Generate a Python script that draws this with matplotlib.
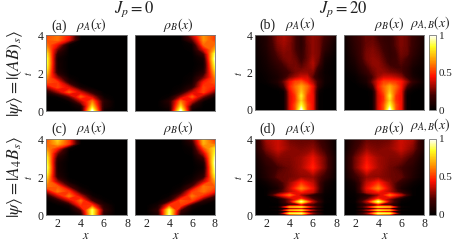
import numpy as np
import matplotlib
matplotlib.use("Agg")
import matplotlib.pyplot as plt
from matplotlib.colors import LinearSegmentedColormap

plt.rcParams['font.family'] = ['Liberation Serif', 'DejaVu Serif']
plt.rcParams['mathtext.fontset'] = 'stix'

x_sites = [1, 2, 3, 4, 5, 6, 7, 8]
x_half = [1, 2, 3, 3.5, 4, 4.5, 5, 5.5, 6, 6.5, 7, 8]
t_even = [0, .25, .5, .75, 1, 1.25, 1.5, 1.75, 2, 2.25, 2.5, 2.75, 3, 3.25, 3.5, 3.75, 4]
t_fine = [0, .09, .17, .25, .33, .42, .52, .7, .85, 1.05, 1.2, 1.4, 1.7, 2, 2.5, 3, 3.5, 4]

rho_a_A = [
 [0, 0, 0, .02, 1, .04, 0, 0],
 [0, 0, 0, .08, .75, .1, 0, 0],
 [0, 0, .02, .32, .6, .12, 0, 0],
 [0, .02, .22, .55, .35, .03, 0, 0],
 [.08, .3, .55, .35, .1, 0, 0, 0],
 [.3, .52, .38, .06, 0, 0, 0, 0],
 [.55, .5, .12, 0, 0, 0, 0, 0],
 [.65, .3, .03, 0, 0, 0, 0, 0],
 [.78, .12, 0, 0, 0, 0, 0, 0],
 [.88, .07, 0, 0, 0, 0, 0, 0],
 [.92, .07, 0, 0, 0, 0, 0, 0],
 [.92, .06, 0, 0, 0, 0, 0, 0],
 [.85, .12, 0, 0, 0, 0, 0, 0],
 [.72, .25, 0, 0, 0, 0, 0, 0],
 [.6, .42, .03, 0, 0, 0, 0, 0],
 [.55, .6, .4, 0, 0, 0, 0, 0],
 [.5, .6, .45, 0, 0, 0, 0, 0],
]
rho_a_B = [
 [0, 0, 0, .03, 1, .03, 0, 0],
 [0, 0, 0, .08, .75, .12, 0, 0],
 [0, 0, 0, .12, .6, .35, .02, 0],
 [0, 0, 0, .02, .3, .55, .25, .03],
 [0, 0, 0, 0, .06, .35, .52, .25],
 [0, 0, 0, 0, .02, .12, .52, .45],
 [0, 0, 0, 0, 0, .05, .45, .55],
 [0, 0, 0, 0, 0, .03, .25, .6],
 [0, 0, 0, 0, 0, .01, .12, .7],
 [0, 0, 0, 0, 0, 0, .06, .8],
 [0, 0, 0, 0, 0, 0, .04, .88],
 [0, 0, 0, 0, 0, 0, .07, .95],
 [0, 0, 0, 0, 0, 0, .18, .88],
 [0, 0, 0, 0, 0, .02, .4, .68],
 [0, 0, 0, 0, 0, .04, .58, .58],
 [0, 0, 0, 0, 0, .22, .65, .5],
 [0, 0, 0, 0, 0, .35, .65, .5],
]
rho_c_A = [
 [0, 0, 0, .06, .88, .1, 0, 0],
 [0, 0, 0, .2, .88, .16, 0, 0],
 [0, 0, .05, .48, .5, .1, 0, 0],
 [0, .08, .35, .58, .18, .02, 0, 0],
 [.05, .35, .6, .35, .04, 0, 0, 0],
 [.32, .6, .48, .1, 0, 0, 0, 0],
 [.6, .55, .2, .02, 0, 0, 0, 0],
 [.7, .3, .04, 0, 0, 0, 0, 0],
 [.82, .12, 0, 0, 0, 0, 0, 0],
 [.92, .08, 0, 0, 0, 0, 0, 0],
 [.96, .07, 0, 0, 0, 0, 0, 0],
 [.92, .07, 0, 0, 0, 0, 0, 0],
 [.88, .12, 0, 0, 0, 0, 0, 0],
 [.78, .25, 0, 0, 0, 0, 0, 0],
 [.65, .45, .02, 0, 0, 0, 0, 0],
 [.55, .7, .5, 0, 0, 0, 0, 0],
 [.5, .78, .5, 0, 0, 0, 0, 0],
]
rho_c_B = [
 [0, 0, .08, .92, .08, 0, 0, 0],
 [0, 0, .14, .88, .2, .02, 0, 0],
 [0, 0, .06, .5, .5, .08, 0, 0],
 [0, 0, 0, .12, .55, .5, .12, .02],
 [0, 0, 0, .02, .28, .6, .45, .18],
 [0, 0, 0, 0, .08, .48, .6, .45],
 [0, 0, 0, 0, .02, .2, .6, .55],
 [0, 0, 0, 0, 0, .06, .35, .65],
 [0, 0, 0, 0, 0, .02, .14, .78],
 [0, 0, 0, 0, 0, 0, .08, .88],
 [0, 0, 0, 0, 0, 0, .04, .92],
 [0, 0, 0, 0, 0, 0, .08, .96],
 [0, 0, 0, 0, 0, 0, .18, .92],
 [0, 0, 0, 0, 0, .02, .35, .85],
 [0, 0, 0, 0, 0, .04, .52, .8],
 [0, 0, 0, 0, 0, .1, .7, .55],
 [0, 0, 0, 0, 0, .2, .72, .45],
]
rho_b_A = [
 [0, 0, 0, .02, .38, .55, 1, .55, .42, .02, 0, 0],
 [0, 0, 0, .02, .38, .55, .85, .55, .42, .02, 0, 0],
 [0, 0, 0, .02, .38, .5, .75, .5, .42, .02, 0, 0],
 [0, 0, 0, .02, .38, .5, .8, .5, .42, .02, 0, 0],
 [0, 0, 0, .03, .4, .55, .72, .55, .4, .04, 0, 0],
 [0, 0, .04, .18, .45, .58, .68, .58, .42, .12, .02, 0],
 [0, .02, .1, .25, .42, .52, .55, .45, .32, .15, .04, 0],
 [0, .03, .08, .15, .25, .32, .38, .38, .22, .1, .04, 0],
 [0, .04, .1, .15, .2, .26, .3, .3, .27, .1, .03, 0],
 [.01, .05, .13, .18, .24, .27, .24, .28, .32, .15, .04, 0],
 [.01, .06, .16, .22, .27, .26, .2, .26, .34, .22, .05, 0],
 [.01, .07, .2, .26, .28, .24, .17, .24, .32, .25, .07, 0],
 [.02, .08, .23, .28, .28, .22, .15, .24, .3, .27, .1, .01],
 [.02, .09, .26, .3, .28, .2, .13, .24, .3, .27, .14, .02],
 [.02, .1, .28, .32, .28, .2, .12, .24, .3, .27, .16, .03],
 [.03, .1, .3, .33, .29, .2, .12, .25, .3, .27, .18, .05],
 [.03, .1, .3, .33, .29, .2, .12, .25, .3, .28, .2, .08],
]
rho_b_B = [
 [0, 0, 0, .02, .38, .55, 1, .55, .42, .02, 0, 0],
 [0, 0, 0, .02, .38, .55, .85, .55, .42, .02, 0, 0],
 [0, 0, 0, .02, .38, .5, .75, .5, .42, .02, 0, 0],
 [0, 0, 0, .02, .38, .5, .8, .5, .42, .02, 0, 0],
 [0, 0, 0, .03, .4, .55, .72, .55, .42, .06, .01, 0],
 [0, 0, .03, .15, .45, .58, .68, .58, .45, .2, .06, .01],
 [0, .01, .08, .25, .42, .52, .52, .5, .45, .3, .15, .02],
 [0, .02, .1, .2, .32, .38, .38, .35, .3, .18, .08, .01],
 [0, .04, .16, .24, .3, .3, .27, .25, .22, .15, .06, .01],
 [.01, .06, .2, .27, .3, .27, .22, .2, .2, .15, .07, .02],
 [.01, .08, .24, .3, .3, .24, .18, .18, .22, .18, .1, .03],
 [.01, .1, .27, .3, .28, .22, .16, .18, .24, .2, .12, .03],
 [.01, .12, .27, .29, .26, .2, .15, .18, .26, .24, .15, .04],
 [.02, .13, .26, .28, .24, .18, .15, .2, .27, .25, .16, .05],
 [.02, .14, .25, .26, .22, .17, .15, .22, .28, .25, .17, .06],
 [.03, .15, .25, .25, .2, .16, .15, .22, .28, .25, .17, .07],
 [.03, .15, .25, .24, .2, .16, .15, .23, .28, .25, .17, .08],
]
rho_d_A = [
 [0, 0, 0, .2, .35, .12, 0, 0],
 [0, 0, .02, .85, .9, .3, 0, 0],
 [0, 0, 0, .12, .2, .08, 0, 0],
 [0, 0, .03, .7, .8, .32, 0, 0],
 [0, 0, 0, .12, .18, .08, 0, 0],
 [0, 0, .03, .65, .75, .3, 0, 0],
 [0, 0, 0, .16, .25, .15, 0, 0],
 [0, 0, .02, .3, .92, .35, .02, 0],
 [0, 0, .03, .3, .48, .2, .01, 0],
 [0, .01, .35, .58, .3, .12, .02, 0],
 [0, .01, .15, .35, .45, .35, .03, 0],
 [0, .01, .08, .35, .62, .42, .05, 0],
 [0, .04, .14, .3, .48, .36, .08, 0],
 [.01, .1, .24, .26, .3, .3, .17, .02],
 [.02, .12, .2, .26, .33, .47, .27, .03],
 [.03, .18, .28, .28, .32, .42, .26, .04],
 [.08, .28, .38, .3, .27, .3, .18, .02],
 [.08, .33, .38, .26, .24, .24, .14, .03],
]
rho_d_B = [
 [0, 0, .12, .35, .2, 0, 0, 0],
 [0, 0, .3, .9, .85, .02, 0, 0],
 [0, 0, .08, .2, .12, 0, 0, 0],
 [0, 0, .32, .8, .7, .03, 0, 0],
 [0, 0, .08, .18, .12, 0, 0, 0],
 [0, 0, .3, .75, .65, .03, 0, 0],
 [0, 0, .15, .25, .16, 0, 0, 0],
 [0, .02, .35, .92, .3, .02, 0, 0],
 [0, .01, .2, .48, .3, .05, 0, 0],
 [0, .02, .12, .3, .58, .35, .01, 0],
 [0, .03, .35, .45, .35, .15, .01, 0],
 [0, .05, .42, .62, .35, .08, .01, 0],
 [0, .08, .36, .48, .3, .14, .04, 0],
 [.02, .17, .3, .3, .26, .24, .1, .01],
 [.03, .27, .47, .33, .26, .2, .12, .02],
 [.04, .26, .42, .32, .28, .28, .18, .03],
 [.02, .18, .3, .27, .3, .38, .28, .08],
 [.03, .14, .24, .24, .26, .38, .33, .08],
]

W, H = 457, 242
cmap = LinearSegmentedColormap.from_list(
    "heat", [(0, "#000000"), (.2, "#400000"), (.45, "#ff1000"),
             (.65, "#ff9000"), (.85, "#ffff20"), (1, "#ffffff")])
levels = np.linspace(0, 1, 129)

fig = plt.figure(figsize=(W / 100, H / 100), dpi=100)


def box(l, t, r, b):
    return [l / W, 1 - b / H, (r - l) / W, (b - t) / H]


def label(px, py, s, size=8, rot=0, va='center'):
    fig.text(px / W, 1 - py / H, s, fontsize=size, rotation=rot,
             ha='center', va=va, color='#222222')


def panel(rect, xs, data, times, bottom, left):
    ax = fig.add_axes(box(*rect))
    ax.set_facecolor('black')
    cs = ax.contourf(xs, times, np.array(data), levels=levels, cmap=cmap,
                     antialiased=False)
    ax.set_xlim(1, 8)
    ax.set_ylim(0, 4)
    ax.set_xticks([2, 4, 6, 8])
    ax.set_yticks([0, 2, 4])
    ax.tick_params(length=0, labelsize=8.5, pad=2, colors='#222222',
                   labelbottom=bottom, labelleft=left)
    for s in ax.spines.values():
        s.set_color('#777777')
        s.set_linewidth(.6)
    return cs


cs = panel((46, 35, 127, 111), x_sites, rho_a_A, t_even, False, True)
panel((135, 35, 215, 111), x_sites, rho_a_B, t_even, False, False)
panel((255, 35, 336, 110), x_half, rho_b_A, t_even, False, True)
panel((344, 35, 424, 110), x_half, rho_b_B, t_even, False, False)
panel((46, 139, 127, 215), x_sites, rho_c_A, t_even, True, True)
panel((135, 139, 215, 215), x_sites, rho_c_B, t_even, True, False)
panel((255, 139, 336, 215), x_sites, rho_d_A, t_fine, True, True)
panel((344, 139, 424, 215), x_sites, rho_d_B, t_fine, True, False)

for rect in [(429, 35, 436, 110), (429, 139, 436, 215)]:
    cax = fig.add_axes(box(*rect))
    cb = fig.colorbar(cs, cax=cax, ticks=[0, .5, 1])
    cb.ax.set_yticklabels(['0', '0.5', '1'])
    cb.ax.tick_params(length=0, labelsize=8, pad=2, colors='#222222')
    cb.outline.set_edgecolor('#777777')
    cb.outline.set_linewidth(.6)

label(134, 13, r'$J_p=0$', 12, va='baseline')
label(343, 13, r'$J_p=20$', 12, va='baseline')
for y, lab in [(26, '(a)'), (129, '(c)')]:
    label(59, y, lab, 10)
    label(91, y - 1, r'$\rho_A(x)$', 10)
    label(178, y - 1, r'$\rho_B(x)$', 10)
for y, lab in [(25, '(b)'), (129, '(d)')]:
    label(267, y, lab, 10)
    label(300, y - 1, r'$\rho_A(x)$', 10)
    label(389, y - 1, r'$\rho_B(x)$', 10)
label(430, 23, r'$\rho_{A,B}(x)$', 10)
label(430, 125, r'$\rho_{A,B}(x)$', 10)

label(15, 73, r'$|\psi\rangle=|(AB)_s\rangle$', 12.5, 90)
label(15, 177, r'$|\psi\rangle=|A_4B_s\rangle$', 12.5, 90)
label(29, 73, r'$t$', 7.5, 90)
label(29, 177, r'$t$', 7.5, 90)
label(238, 73, r'$t$', 7.5, 90)
label(238, 177, r'$t$', 7.5, 90)
for px in [86, 176, 297, 385]:
    label(px, 236, r'$x$', 9)

fig.savefig("out.png", dpi=100)
